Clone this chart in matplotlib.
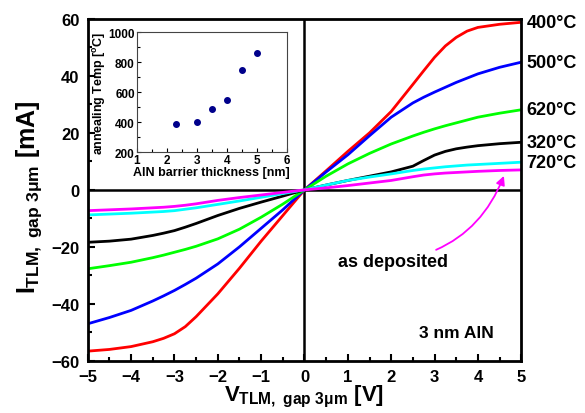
import matplotlib.pyplot as plt
import numpy as np

plt.rcParams['font.family'] = ['Liberation Sans', 'DejaVu Sans']
plt.rcParams['font.weight'] = 'bold'
plt.rcParams['axes.labelweight'] = 'bold'
plt.rcParams['mathtext.fontset'] = 'custom'
plt.rcParams['mathtext.rm'] = 'Liberation Sans:bold'
plt.rcParams['mathtext.it'] = 'Liberation Sans:bold'
plt.rcParams['mathtext.bf'] = 'Liberation Sans:bold'

# I-V data (V in volts, I in mA)
voltage = [-5, -4.5, -4, -3.5, -3.25, -3, -2.75, -2.5, -2, -1.5, -1, -0.5, 0,
           0.5, 1, 1.5, 2, 2.5, 2.75, 3, 3.25, 3.5, 3.75, 4, 4.5, 5]
i_400 = [-56.6, -56.0, -55.0, -53.3, -52.1, -50.5, -48.0, -44.5, -36.5, -27.5, -18.0, -9.0, 0,
         6.7, 13.5, 20.0, 27.5, 37.0, 41.8, 46.5, 50.5, 53.5, 55.7, 57.0, 58.1, 58.8]
i_500 = [-47.0, -44.8, -42.3, -39.0, -37.2, -35.3, -33.2, -31.0, -26.0, -20.0, -13.5, -7.0, 0,
         6.3, 12.3, 19.0, 25.5, 30.5, 32.5, 34.3, 36.0, 37.7, 39.2, 40.7, 43.0, 44.8]
i_620 = [-27.7, -26.6, -25.4, -23.8, -22.9, -21.9, -20.9, -19.8, -17.2, -13.8, -9.6, -5.0, 0,
         4.8, 9.1, 12.8, 16.1, 18.9, 20.2, 21.4, 22.5, 23.5, 24.5, 25.5, 26.9, 28.1]
i_320 = [-18.4, -18.0, -17.3, -16.0, -15.2, -14.3, -13.1, -11.8, -9.0, -6.5, -4.3, -2.2, 0,
         1.7, 3.3, 4.8, 6.3, 8.3, 10.3, 12.2, 13.5, 14.4, 15.0, 15.5, 16.2, 16.7]
i_720 = [-8.8, -8.5, -8.2, -7.8, -7.6, -7.3, -6.8, -6.3, -5.1, -3.9, -2.6, -1.3, 0,
         1.7, 3.3, 4.5, 5.6, 6.8, 7.3, 7.7, 8.1, 8.4, 8.7, 8.9, 9.3, 9.7]
i_asdep = [-7.3, -7.0, -6.7, -6.3, -6.1, -5.8, -5.4, -4.9, -3.7, -2.7, -1.8, -0.9, 0,
           0.7, 1.5, 2.4, 3.3, 4.6, 5.2, 5.6, 5.9, 6.1, 6.3, 6.5, 6.8, 7.0]

# inset: annealing temperature vs AlN barrier thickness
thickness = [2.3, 3.0, 3.5, 4.0, 4.5, 5.0]
anneal_temp = [390, 400, 490, 550, 750, 860]

fig = plt.figure(figsize=(5.85, 4.14), dpi=100)
ax = fig.add_axes([0.150, 0.126, 0.741, 0.826])

curves = [(i_400, '#ff0000', '400°C'), (i_500, '#0000ff', '500°C'),
          (i_620, '#00ff00', '620°C'), (i_320, '#000000', '320°C'),
          (i_720, '#00ffff', '720°C'), (i_asdep, '#ff00ff', None)]
for vals, col, lab in curves:
    ax.plot(voltage, vals, color=col, lw=2)
    if lab:
        ax.text(5.12, vals[-1], lab, fontsize=13, fontweight='bold',
                va='center', ha='left', clip_on=False)

ax.axhline(0, color='black', lw=1.8, zorder=1)
ax.axvline(0, color='black', lw=1.8, zorder=1)

ax.set_xlim(-5, 5)
ax.set_ylim(-60, 60)
ax.set_xticks(np.arange(-5, 6, 1))
ax.set_xticks(np.arange(-4.5, 5, 1), minor=True)
ax.set_yticks(np.arange(-60, 61, 20))
ax.set_yticks(np.arange(-50, 60, 20), minor=True)
ax.tick_params(direction='in', length=5, width=1.5, labelsize=12, pad=6)
ax.tick_params(which='minor', direction='in', length=3, width=1.5)
for s in ax.spines.values():
    s.set_linewidth(2)

ax.set_xlabel(r'$V_{TLM,\ gap\ 3\mu m}$ [V]', fontsize=16, labelpad=-1)
ax.set_ylabel(r'$I_{TLM,\ gap\ 3\mu m}$ [mA]', fontsize=18)
ax.yaxis.set_label_coords(-0.10, 0.48)

ax.annotate('as deposited', xy=(4.6, 4.9), xytext=(3.3, -25),
            fontsize=13, fontweight='bold', ha='right', va='center',
            arrowprops=dict(arrowstyle='-|>', color='#ff00ff', lw=1.3,
                            connectionstyle='arc3,rad=0.3', shrinkA=0, shrinkB=0))
ax.text(3.5, -50, '3 nm AlN', fontsize=12.5, fontweight='bold', ha='center', va='center')

# inset
ins = fig.add_axes([0.234, 0.630, 0.256, 0.290])
ins.scatter(thickness, anneal_temp, s=16, color='#00008b', zorder=3)
ins.set_xlim(1, 6)
ins.set_ylim(200, 1000)
ins.set_xticks(np.arange(1, 7, 1))
ins.set_xticks(np.arange(1.5, 6, 1), minor=True)
ins.set_yticks(np.arange(200, 1001, 200))
ins.set_yticks(np.arange(300, 1000, 200), minor=True)
ins.tick_params(direction='in', length=3, width=0.8, labelsize=8.5, pad=1.5)
ins.tick_params(which='minor', direction='in', length=2, width=0.8)
for s in ins.spines.values():
    s.set_linewidth(0.8)
    s.set_color('#444444')
ins.set_xlabel('AlN barrier thickness [nm]', fontsize=9, labelpad=0)
ins.set_ylabel('annealing Temp [$^{o}$C]', fontsize=9, labelpad=0)

fig.savefig('out.png', dpi=100)
